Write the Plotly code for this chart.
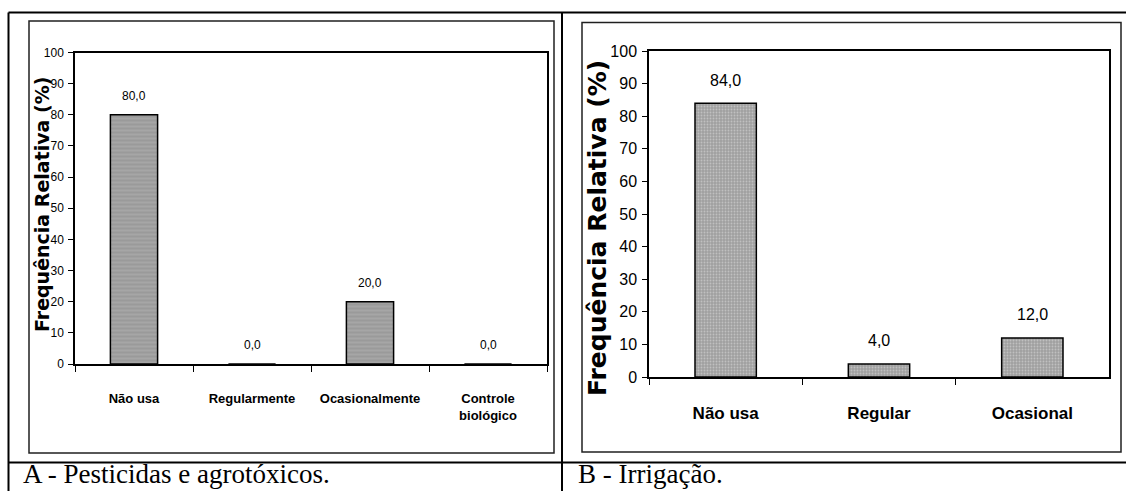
import plotly.graph_objects as go

# Panel A: pesticide use
cats_a = ["Não usa", "Regularmente", "Ocasionalmente", "Controle<br>biológico"]
vals_a = [80.0, 0.0, 20.0, 0.0]

# Panel B: irrigation
cats_b = ["Não usa", "Regular", "Ocasional"]
vals_b = [84.0, 4.0, 12.0]

y_ticks = list(range(0, 101, 10))
y_title = "Frequência Relativa (%)"
caption_a = "A - Pesticidas e agrotóxicos."
caption_b = "B - Irrigação."

W, H = 1126, 491
SANS = "Liberation Sans, Arial, sans-serif"
WIDE_BOLD = "DejaVu Sans, Arial, sans-serif"
SERIF = "Liberation Serif, Times New Roman, serif"


def px(x):
    return x / W


def py(y):
    return 1 - y / H


def fmt(v):
    return f"{v:.1f}".replace(".", ",")


fig = go.Figure()

fig.add_trace(go.Bar(
    x=cats_a, y=vals_a, xaxis="x", yaxis="y", width=0.4,
    marker=dict(color="#9a9a9a", line=dict(color="black", width=1.5),
                pattern=dict(shape="-", bgcolor="#9a9a9a", fgcolor="#cacaca",
                             size=4, solidity=0.25)),
    hoverinfo="skip", showlegend=False,
))
fig.add_trace(go.Bar(
    x=cats_b, y=vals_b, xaxis="x2", yaxis="y2", width=0.4,
    marker=dict(color="#a8a8a8", line=dict(color="black", width=1.5),
                pattern=dict(shape=".", bgcolor="#a0a0a0", fgcolor="#e0e0e0",
                             size=3, solidity=0.3)),
    hoverinfo="skip", showlegend=False,
))

axis_common = dict(showline=True, mirror=True, linecolor="black", linewidth=1.5,
                   showgrid=False, zeroline=False, ticks="outside",
                   tickcolor="black", tickwidth=1, automargin=False)

fig.update_layout(
    width=W, height=H,
    margin=dict(l=0, r=0, t=0, b=0, autoexpand=False),
    paper_bgcolor="white", plot_bgcolor="white",
    xaxis=dict(domain=[px(75), px(547)], anchor="y", tickson="boundaries",
               ticklen=6, ticklabelstandoff=22, tickangle=0,
               tickfont=dict(family=SANS, size=13, color="black", weight="bold"),
               **axis_common),
    yaxis=dict(domain=[py(364), py(52.5)], anchor="x", range=[0, 100],
               tickvals=y_ticks, ticklen=5, ticklabelstandoff=2,
               tickfont=dict(family=SANS, size=12, color="black"),
               **axis_common),
    xaxis2=dict(domain=[px(649), px(1109)], anchor="y2", tickson="boundaries",
                ticklen=6, ticklabelstandoff=20, tickangle=0,
                tickfont=dict(family=SANS, size=17, color="black", weight="bold"),
                **axis_common),
    yaxis2=dict(domain=[py(377), py(51)], anchor="x2", range=[0, 100],
                tickvals=y_ticks, ticklen=5, ticklabelstandoff=2,
                tickfont=dict(family=SANS, size=16, color="black"),
                **axis_common),
)

annotations = []
# value labels above the bars
for c, v in zip(cats_a, vals_a):
    annotations.append(dict(x=c, y=v, xref="x", yref="y", text=fmt(v),
                            showarrow=False, yanchor="middle", yshift=19,
                            font=dict(family=SANS, size=12, color="black")))
for c, v in zip(cats_b, vals_b):
    annotations.append(dict(x=c, y=v, xref="x2", yref="y2", text=fmt(v),
                            showarrow=False, yanchor="middle", yshift=23,
                            font=dict(family=SANS, size=16, color="black")))

# rotated y-axis titles
annotations.append(dict(x=px(42), y=py(205), xref="paper", yref="paper",
                        text=f"<b>{y_title}</b>", textangle=-90, showarrow=False,
                        xanchor="center", yanchor="middle",
                        font=dict(family=WIDE_BOLD, size=19, color="black")))
annotations.append(dict(x=px(597), y=py(228), xref="paper", yref="paper",
                        text=f"<b>{y_title}</b>", textangle=-90, showarrow=False,
                        xanchor="center", yanchor="middle",
                        font=dict(family=WIDE_BOLD, size=25, color="black")))

# captions in the lower table row
annotations.append(dict(x=px(21), y=0, xref="paper", yref="paper",
                        text=caption_a, showarrow=False, xanchor="left", yanchor="bottom",
                        font=dict(family=SERIF, size=27, color="black")))
annotations.append(dict(x=px(576), y=0, xref="paper", yref="paper",
                        text=caption_b, showarrow=False, xanchor="left", yanchor="bottom",
                        font=dict(family=SERIF, size=27, color="black")))
fig.update_layout(annotations=annotations)

shapes = []
# table rules
tbl = dict(type="line", xref="paper", yref="paper", line=dict(color="black", width=2))
shapes.append(dict(tbl, x0=px(8.5), x1=1, y0=py(12.5), y1=py(12.5)))
shapes.append(dict(tbl, x0=px(8.5), x1=1, y0=py(462.5), y1=py(462.5)))
shapes.append(dict(tbl, x0=px(8.5), x1=px(8.5), y0=py(12.5), y1=0))
shapes.append(dict(tbl, x0=px(562), x1=px(562), y0=py(12.5), y1=0))
# chart frames
box = dict(type="rect", xref="paper", yref="paper", line=dict(color="#202020", width=1.5),
           fillcolor="rgba(0,0,0,0)", layer="below")
shapes.append(dict(box, x0=px(29), x1=px(554), y0=py(453), y1=py(21)))
shapes.append(dict(box, x0=px(582), x1=px(1121), y0=py(452), y1=py(22.5)))
fig.update_layout(shapes=shapes)

fig.write_html("out.html")
